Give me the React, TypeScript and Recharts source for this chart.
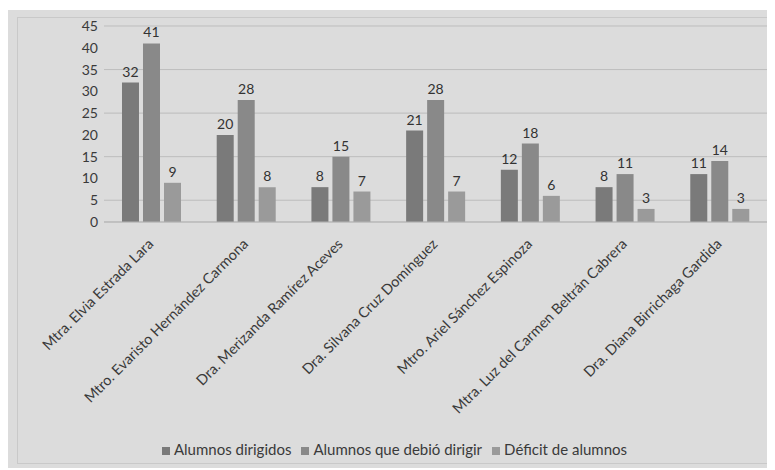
import { BarChart, Bar, XAxis, YAxis, CartesianGrid, Legend, LabelList } from "recharts";

const profesores = [
  "Mtra. Elvia Estrada Lara",
  "Mtro. Evaristo Hernández Carmona",
  "Dra. Merizanda Ramírez Aceves",
  "Dra. Silvana Cruz Domínguez",
  "Mtro. Ariel Sánchez Espinoza",
  "Mtra. Luz del Carmen Beltrán Cabrera",
  "Dra. Diana Birrichaga Gardida",
];
const dirigidos = [32, 20, 8, 21, 12, 8, 11];
const debioDirigir = [41, 28, 15, 28, 18, 11, 14];
const deficit = [9, 8, 7, 7, 6, 3, 3];
const yTicks = [0, 5, 10, 15, 20, 25, 30, 35, 40, 45];

const data = profesores.map((name, i) => ({
  name,
  dirigidos: dirigidos[i],
  debio: debioDirigir[i],
  deficit: deficit[i],
}));

const FONT = "Lato, 'Open Sans', sans-serif";

// rotated category labels, end of text sits just under the group centre
const CatTick = (props: any) => {
  const { x, y, payload } = props;
  return (
    <g transform={`translate(${x + 3},${y + 15})`}>
      <text x={0} y={0} textAnchor="end" transform="rotate(-45)" fontSize={14.5} fill="#3a3a3a" fontFamily={FONT}>
        {payload.value}
      </text>
    </g>
  );
};

export default function App() {
  return (
    <div style={{ position: "relative", top: 2, width: 767, height: 460, background: "#dcdcdc" }}>
      <div
        style={{
          position: "absolute", left: 9, top: 7, right: 0, bottom: 6,
          border: "1px solid #c9c9c9", borderRight: "none",
        }}
      />
      <BarChart
        width={767}
        height={460}
        data={data}
        margin={{ top: 16, right: 8, left: 36, bottom: 0 }}
        barCategoryGap="19%"
        barGap={4}
        style={{ position: "absolute", left: 0, top: 0, fontFamily: FONT }}
      >
        <CartesianGrid vertical={false} stroke="#bdbdbd" strokeWidth={1} />
        <XAxis
          dataKey="name"
          interval={0}
          tick={<CatTick />}
          tickLine={false}
          axisLine={{ stroke: "#b5b5b5" }}
          height={230}
        />
        <YAxis
          domain={[0, 45]}
          ticks={yTicks}
          tickLine={false}
          axisLine={false}
          width={60}
          tickSize={6}
          tickMargin={0}
          tick={{ fontSize: 14, fill: "#3a3a3a", fontFamily: FONT }}
        />
        <Legend
          verticalAlign="bottom"
          iconType="square"
          iconSize={8}
          wrapperStyle={{ left: 8, width: 767, top: 430, fontSize: 15, fontFamily: FONT }}
          formatter={(v: string) => <span style={{ color: "#3a3a3a" }}>{v}</span>}
        />
        <Bar dataKey="dirigidos" name="Alumnos dirigidos" fill="#7a7a7a" isAnimationActive={false}>
          <LabelList dataKey="dirigidos" position="top" offset={6} fontSize={14} fill="#333" fontFamily={FONT} />
        </Bar>
        <Bar dataKey="debio" name="Alumnos que debió dirigir" fill="#898989" isAnimationActive={false}>
          <LabelList dataKey="debio" position="top" offset={6} fontSize={14} fill="#333" fontFamily={FONT} />
        </Bar>
        <Bar dataKey="deficit" name="Déficit de alumnos" fill="#9a9a9a" isAnimationActive={false}>
          <LabelList dataKey="deficit" position="top" offset={6} fontSize={14} fill="#333" fontFamily={FONT} />
        </Bar>
      </BarChart>
    </div>
  );
}
